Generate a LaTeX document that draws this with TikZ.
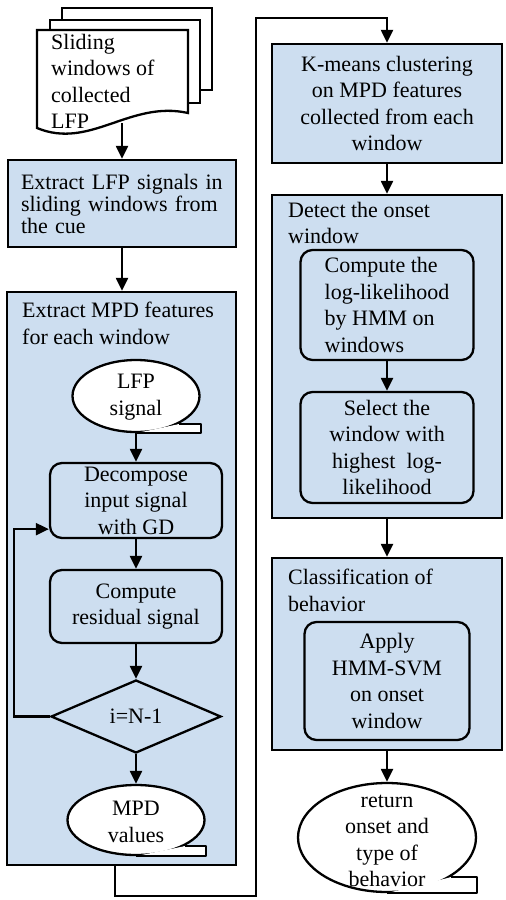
\documentclass[tikz,border=0pt]{standalone}
\usepackage{fontspec}
\setmainfont{Liberation Serif}
\usepackage{tikz}
\usepackage{xcolor}
\usetikzlibrary{arrows.meta,shapes.geometric,calc}
\definecolor{boxblue}{RGB}{205,222,240}
\newcommand\bubtail[3]{%
\fill[white] (#1.south) -- (#1.south -| #1.east) -- ++(0,-#2) -- ($(#1.south)!#3!(#1.south -| #1.east)+(0,-#2)$) -- cycle;
\draw[line width=2.3pt, line join=round] ($(#1.south)!#3!(#1.south -| #1.east)+(0,-#2)$) -| (#1.south -| #1.east) -- (#1.south);}

\begin{document}
\begin{tikzpicture}[x=1pt,y=-1pt,
  every node/.style={font=\fontsize{22}{26.5}\selectfont},
  blk/.style={draw, line width=2.3pt, fill=boxblue, inner sep=0pt},
  rnd/.style={blk, rounded corners=12pt, align=center},
  bub/.style={draw, line width=2.3pt, fill=white, ellipse, inner sep=0pt},
  doc/.style={draw, line width=2.3pt, fill=white},
  ttl/.style={anchor=north west, align=left, inner sep=0pt},
  arr/.style={line width=2.2pt, -{Triangle[length=13pt,width=12pt]}}]
\useasboundingbox (0,0) rectangle (506,900);
\filldraw[doc] (62,8) rectangle (212,90);
\filldraw[doc] (50,20) rectangle (200,103);
\filldraw[doc] (37,30) -- (188,30) -- (188,113) .. controls (130,100) and (90,150) .. (37,128) -- cycle;
\node[ttl] (doc) at (51,34) {Sliding\\windows of\\collected\\LFP};
\coordinate (docb) at (122,123);
\node[blk, minimum width=228pt, minimum height=87pt, text width=202pt, align=left, font=\fontsize{22}{22}\selectfont] (ext) at (122,203.5) {Extract LFP signals in\\sliding windows from\\the cue};
\node[blk, minimum width=229pt, minimum height=573pt] (grpA) at (121.5,578.5) {};
\node[ttl] (grpAt) at (22,302) {Extract MPD features\\for each window};
\node[bub, minimum width=127pt, minimum height=72pt] (lfp) at (136,396) {};
\bubtail{lfp}{9}{0.66}
\node[align=center] (lfpt) at (136,397) {LFP\\signal};
\node[rnd, minimum width=172pt, minimum height=75pt] (dec) at (136,500.5) {Decompose\\input signal\\with GD};
\coordinate (decin) at ($(dec.south west)+(0,-10)$);
\node[rnd, minimum width=172pt, minimum height=73pt] (res) at (136,606.5) {Compute\\residual signal};
\node[blk, diamond, minimum width=170pt, minimum height=73pt] (chk) at (136,716.5) {i=N-1};
\node[bub, minimum width=137pt, minimum height=70pt] (mpd) at (136,820) {};
\bubtail{mpd}{10}{0.7}
\node[align=center] (mpdt) at (136,822) {MPD\\values};
\node[blk, minimum width=230pt, minimum height=119pt, align=center] (km) at (387,103.5) {K-means clustering\\on MPD features\\collected from each\\window};
\node[blk, minimum width=230pt, minimum height=323pt] (grpB) at (387,356.5) {};
\node[ttl] (grpBt) at (288,202) {Detect the onset\\window};
\node[rnd, minimum width=173pt, minimum height=110pt, align=left] (llh) at (387,305) {Compute the\\log-likelihood\\by HMM on\\windows};
\node[rnd, minimum width=173pt, minimum height=111pt] (sel) at (387,447.5) {Select the\\window with\\highest~~log-\\likelihood};
\node[blk, minimum width=230pt, minimum height=192pt] (grpC) at (387,654) {};
\node[ttl] (grpCt) at (288,569) {Classification of\\behavior};
\node[rnd, minimum width=165pt, minimum height=118pt] (hsv) at (387,681) {Apply\\HMM-SVM\\on onset\\window};
\node[bub, minimum width=178pt, minimum height=109pt] (ret) at (387,837.5) {};
\bubtail{ret}{16}{0.71}
\node[align=center] (rett) at (387,841) {return\\onset and\\type of\\behavior};
\draw[arr] (docb) -- (ext.north);
\draw[arr] (ext.south) -- (ext.south |- grpA.north);
\draw[arr] (lfp.south) -- (dec.north);
\draw[arr] (dec.south) -- (res.north);
\draw[arr] (res.south) -- (chk.north);
\draw[arr] (chk.south) -- (mpd.north);
\draw[arr] (chk.west) -- ++(-36,0) |- (decin);
\draw[arr] ([xshift=-6.5pt]grpA.south) -- ++(0,30) -| (256,18) -| (km.north);
\draw[arr] (km.south) -- (grpB.north);
\draw[arr] (llh.south) -- (sel.north);
\draw[arr] (grpB.south) -- (grpC.north);
\draw[arr] (grpC.south) -- (ret.north);
\end{tikzpicture}
\end{document}
